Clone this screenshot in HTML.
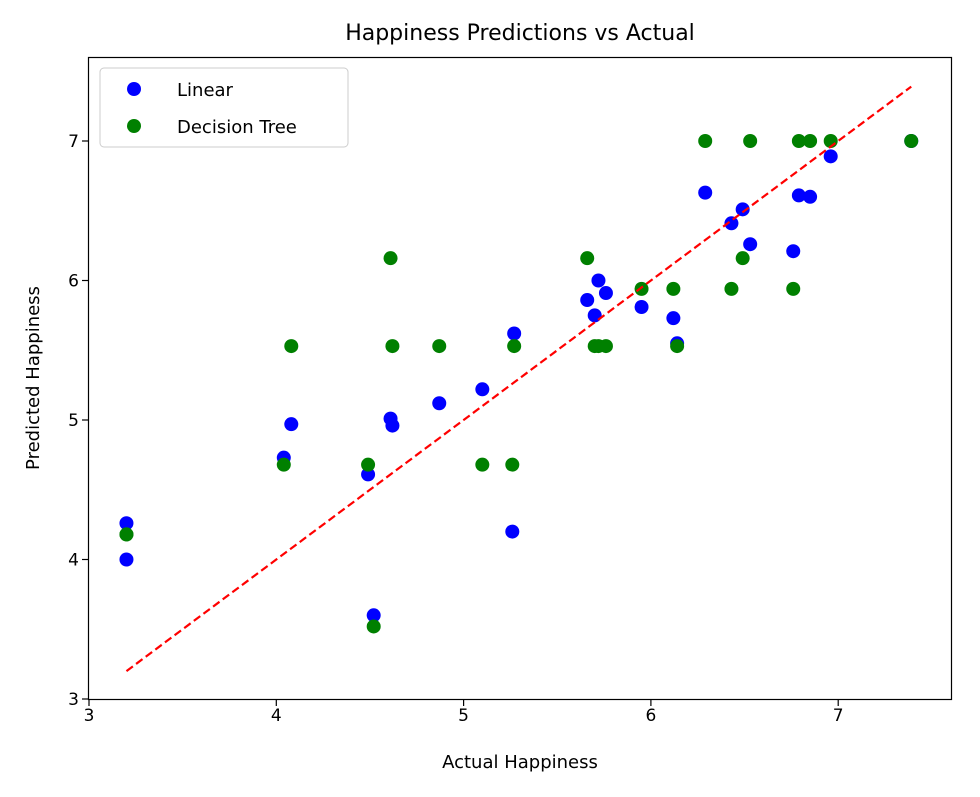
<!DOCTYPE html>
<html><head><meta charset="utf-8"><style>
body{margin:0;background:#fff;}
svg text{font-family:"DejaVu Sans","Liberation Sans",sans-serif;fill:#000;}
</style></head><body>
<svg id="chart" width="980" height="792" viewBox="0 0 980 792" xmlns="http://www.w3.org/2000/svg">
<text x="520" y="40" font-size="22" text-anchor="middle">Happiness Predictions vs Actual</text>
<text x="520" y="768" font-size="18" text-anchor="middle">Actual Happiness</text>
<text transform="translate(39,378) rotate(-90)" font-size="18" text-anchor="middle">Predicted Happiness</text>
<g id="marks"></g>
<rect x="88.5" y="57.5" width="863" height="642" fill="none" stroke="#000" stroke-width="1.2"/>
<g>
<rect x="100" y="68" width="248" height="79" rx="4" fill="#fff" fill-opacity="0.85" stroke="#ccc"/>
<circle cx="134" cy="89" r="7" fill="#0000ff"/>
<text x="177" y="96" font-size="18">Linear</text>
<circle cx="134" cy="126" r="7" fill="#008000"/>
<text x="177" y="133" font-size="18">Decision Tree</text>
</g>
</svg>
<script>
const xTicks=[3,4,5,6,7];
const yTicks=[3,4,5,6,7];
const actual=[3.20,3.20,4.04,4.08,4.49,4.61,4.62,4.87,5.10,5.26,5.27,4.52,5.66,5.70,5.72,5.76,5.95,6.12,6.14,6.29,6.43,6.49,6.53,6.76,6.79,6.85,6.96,7.39];
const linearPred=[4.26,4.00,4.73,4.97,4.61,5.01,4.96,5.12,5.22,4.20,5.62,3.60,5.86,5.75,6.00,5.91,5.81,5.73,5.55,6.63,6.41,6.51,6.26,6.21,6.61,6.60,6.89,7.00];
const treePred=[4.18,4.18,4.68,5.53,4.68,6.16,5.53,5.53,4.68,4.68,5.53,3.52,6.16,5.53,5.53,5.53,5.94,5.94,5.53,7.00,5.94,6.16,7.00,5.94,7.00,7.00,7.00,7.00];
const X=v=>89+(v-3)*187.3;
const Y=v=>699-(v-3)*139.5;
const NS="http://www.w3.org/2000/svg";
const g=document.getElementById('marks');
function mk(t,a){const e=document.createElementNS(NS,t);for(const k in a)e.setAttribute(k,a[k]);g.appendChild(e);return e;}
xTicks.forEach(v=>{
 const l=mk('line',{x1:X(v),x2:X(v),y1:699.5,y2:706,stroke:'#000','stroke-width':1.2});
 
 
 const t=mk('text',{x:X(v),y:721,'font-size':17,'text-anchor':'middle'});t.textContent=v;
 
 
});
yTicks.forEach(v=>{
 const l=mk('line',{x1:82,x2:88.5,y1:Y(v),y2:Y(v),stroke:'#000','stroke-width':1.2});
 
 
 const t=mk('text',{x:79,y:Y(v)+6,'font-size':17,'text-anchor':'end'});t.textContent=v;
 
 
});
actual.forEach((a,i)=>{
 const c=mk('circle',{cx:X(a),cy:Y(linearPred[i]),r:7,fill:'#0000ff'});
 
 
});
actual.forEach((a,i)=>{
 const c=mk('circle',{cx:X(a),cy:Y(treePred[i]),r:7,fill:'#008000'});
 
 
});
const mn=Math.min(...actual),mx=Math.max(...actual);
const d=mk('line',{x1:X(mn),y1:Y(mn),x2:X(mx),y2:Y(mx),stroke:'#ff0000','stroke-width':2.2,'stroke-dasharray':'8,4'});


</script>
</body></html>
